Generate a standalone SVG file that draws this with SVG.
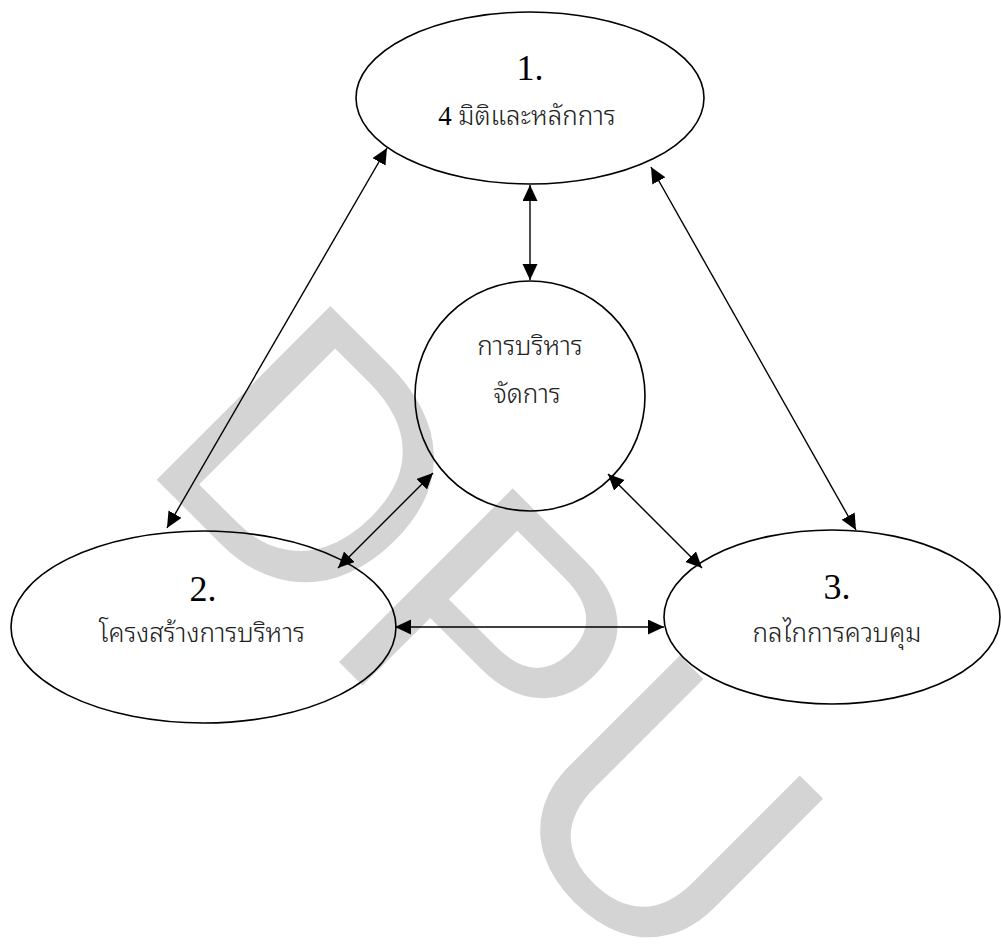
<svg xmlns="http://www.w3.org/2000/svg" width="1001" height="946" viewBox="0 0 1001 946">
<style>
.node{fill:none;stroke:#000;stroke-width:1.6}
.num{font-family:"Liberation Serif","Times New Roman",serif;font-size:36px;fill:#000;text-anchor:middle}
.lbl{font-family:"Liberation Serif","Noto Sans Thai Looped","Noto Serif Thai","Noto Sans Thai",serif;font-size:26px;font-weight:300;fill:#222;text-anchor:middle}
.conn line{stroke:#000;stroke-width:1.4;marker-start:url(#ah);marker-end:url(#ah)}
</style>
<defs>
<marker id="ah" markerUnits="userSpaceOnUse" markerWidth="17" markerHeight="16" refX="16" refY="7.5" orient="auto-start-reverse" viewBox="0 0 17 16">
<path d="M0,0 L16,7.5 L0,15 z" fill="#000"/>
</marker>
</defs>
<rect width="1001" height="946" fill="#fff"/>
<text id="watermark" x="0" y="0" transform="translate(136,459) rotate(45)" font-family="Liberation Sans, Arial, sans-serif" font-size="357" fill="#d4d4d4">DPU</text>
<g id="n1">
<ellipse class="node" cx="530" cy="98" rx="174" ry="86"/>
<text class="num" x="530" y="80">1.</text>
<text class="lbl" x="527" y="125"><tspan font-family="Liberation Serif, serif" font-size="27" font-weight="400" fill="#000">4</tspan> มิติและหลักการ</text>
</g>
<g id="n0">
<circle class="node" cx="530" cy="396" r="115"/>
<text class="lbl" x="530" y="355">การบริหาร</text>
<text class="lbl" x="527" y="403">จัดการ</text>
</g>
<g id="n2">
<ellipse class="node" cx="203.5" cy="627" rx="192.5" ry="96"/>
<text class="num" x="203" y="601">2.</text>
<text class="lbl" x="202" y="642">โครงสร้างการบริหาร</text>
</g>
<g id="n3">
<ellipse class="node" cx="832" cy="617" rx="168" ry="87"/>
<text class="num" x="837" y="599">3.</text>
<text class="lbl" x="837" y="642">กลไกการควบคุม</text>
</g>
<g id="connectors" class="conn">
<line x1="387" y1="148" x2="167" y2="528"/>
<line x1="530" y1="185" x2="530" y2="280"/>
<line x1="651" y1="167" x2="856" y2="530"/>
<line x1="433" y1="473" x2="338" y2="568"/>
<line x1="608" y1="474" x2="702" y2="568"/>
<line x1="395" y1="627" x2="664" y2="627"/>
</g>
</svg>
